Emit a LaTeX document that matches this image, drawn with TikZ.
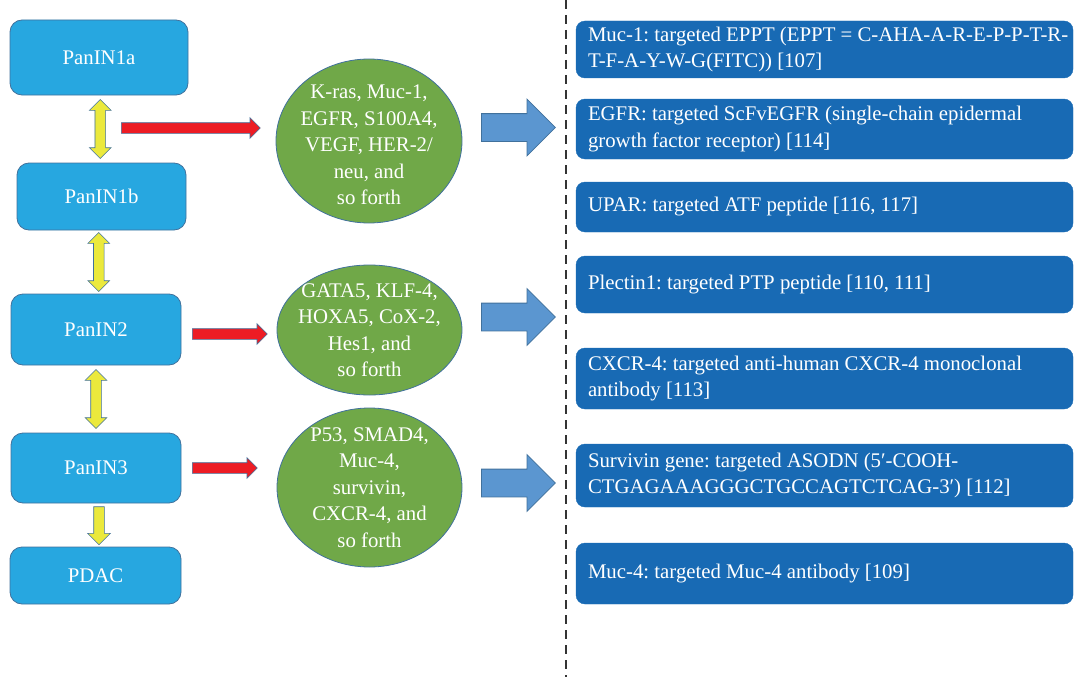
\documentclass[tikz,border=0pt]{standalone}
\usepackage{fontspec}
\setmainfont{Liberation Serif}
\usetikzlibrary{shapes.arrows,shapes.geometric,calc}
\definecolor{panblue}{RGB}{39,167,224}
\definecolor{edgeblue}{RGB}{65,113,156}
\definecolor{markgreen}{RGB}{112,168,72}
\definecolor{arrred}{RGB}{237,28,36}
\definecolor{arryellow}{RGB}{235,233,60}
\definecolor{arrblue}{RGB}{91,150,208}
\definecolor{targblue}{RGB}{24,106,180}
\frenchspacing

\begin{document}
\begin{tikzpicture}[x=1pt,y=-1pt,font=\fontsize{20.8pt}{26.5pt}\selectfont,
 stage/.style={rectangle,rounded corners=12pt,draw=edgeblue,fill=panblue,line width=0.8pt,text=white},
 marker/.style={ellipse,draw=edgeblue,fill=markgreen,line width=0.8pt,inner sep=0pt},
 mtext/.style={text=white,align=center,inner sep=0pt},
 target/.style={rectangle,rounded corners=9pt,draw=targblue,fill=targblue,minimum width=497pt},
 ttext/.style={anchor=west,text=white,align=left,inner sep=0pt},
 yarrow/.style={double arrow,draw=edgeblue,fill=arryellow,line width=0.6pt,inner xsep=0pt,inner ysep=5pt,
   double arrow head extend=5.5pt,double arrow head indent=0pt,rotate=90},
 ydown/.style={single arrow,draw=edgeblue,fill=arryellow,line width=0.6pt,inner xsep=0pt,inner ysep=5pt,
   single arrow head extend=6pt,single arrow head indent=0pt,rotate=-90,anchor=tail},
 rarrow/.style={single arrow,draw=edgeblue,fill=arrred,line width=0.6pt,inner xsep=0pt,inner ysep=5pt,
   single arrow head extend=5pt,single arrow head indent=0pt,anchor=tail},
 barrow/.style={single arrow,draw=edgeblue,fill=arrblue,line width=0.8pt,inner xsep=0pt,inner ysep=13.5pt,
   minimum height=74pt,single arrow head extend=14.5pt,single arrow head indent=0pt,anchor=tail},
 split/.style={draw=black!80,line width=1.3pt,dash pattern=on 9pt off 6pt}]

\useasboundingbox (0,0) rectangle (1074,677);

 \node at (99,57.5) [stage,minimum width=178pt,minimum height=75pt] (p1a) {PanIN1a};
 \node at (101.5,196.5) [stage,minimum width=169pt,minimum height=67pt] (p1b) {PanIN1b};
 \node at (96,329.5) [stage,minimum width=170pt,minimum height=71pt] (p2) {PanIN2};
 \node at (96,468) [stage,minimum width=170pt,minimum height=70pt] (p3) {PanIN3};
 \node at (95.5,575.5) [stage,minimum width=171pt,minimum height=57pt] (pdac) {PDAC};

 \node at ($(p1a.south)!0.5!(p1b.north)$) [yarrow,minimum height=59pt] (y1) {};
 \node at ($(p1b.south)!0.5!(p2.north)$) [yarrow,minimum height=59pt] (y2) {};
 \node at ($(p2.south)!0.5!(p3.north)$) [yarrow,minimum height=59pt] (y3) {};
 \node at ([xshift=3pt,yshift=-3pt]p3.south) [ydown,minimum height=38pt] (y4) {};

 \node at (121,128) [rarrow,minimum height=139pt] (r1) {};
 \node at (192,334) [rarrow,minimum height=75pt] (r2) {};
 \node at (192,468) [rarrow,minimum height=65pt] (r3) {};

 \node at (369,141) [marker,minimum width=186pt,minimum height=164pt] (e1) {};
 \node at ([yshift=-4pt]e1) [mtext] (e1t) {K-ras, Muc-1,\\EGFR, S100A4,\\VEGF, HER-2/\\neu, and\\so forth};
 \node at (369.5,330) [marker,minimum width=185pt,minimum height=130pt] (e2) {};
 \node at (e2) [mtext] (e2t) {GATA5, KLF-4,\\HOXA5, CoX-2,\\Hes1, and\\so forth};
 \node at (369.5,487.5) [marker,minimum width=185pt,minimum height=159pt] (e3) {};
 \node at (e3) [mtext] (e3t) {P53, SMAD4,\\Muc-4,\\survivin,\\CXCR-4, and\\so forth};

 \node at (481,127.5) [barrow] (b1) {};
 \node at (481,317) [barrow] (b2) {};
 \node at (481,483) [barrow] (b3) {};

 \coordinate (dtop) at (566,0);
 \coordinate (dbot) at (566,677);
 \draw[split] (dtop)--(dbot);

 \node at (824.5,49.5) [target,minimum height=57pt] (m1) {};
 \node at ([xshift=12pt]m1.west) [ttext] (m1t) {Muc-1: targeted EPPT (EPPT = C-AHA-A-R-E-P-P-T-R-\\T-F-A-Y-W-G(FITC)) [107]};
 \node at (824.5,129) [target,minimum height=60pt] (m2) {};
 \node at ([xshift=12pt]m2.west) [ttext] (m2t) {EGFR: targeted ScFvEGFR (single-chain epidermal\\growth factor receptor) [114]};
 \node at (824.5,207) [target,minimum height=50pt] (m3) {};
 \node at ([xshift=12pt]m3.west) [ttext] (m3t) {UPAR: targeted ATF peptide [116, 117]};
 \node at (824.5,284.5) [target,minimum height=57pt] (m4) {};
 \node at ([xshift=12pt]m4.west) [ttext] (m4t) {Plectin1: targeted PTP peptide [110, 111]};
 \node at (824.5,378.5) [target,minimum height=61pt] (m5) {};
 \node at ([xshift=12pt]m5.west) [ttext] (m5t) {CXCR-4: targeted anti-human CXCR-4 monoclonal\\antibody [113]};
 \node at (824.5,475.5) [target,minimum height=63pt] (m6) {};
 \node at ([xshift=12pt]m6.west) [ttext] (m6t) {Survivin gene: targeted ASODN (5′-COOH-\\CTGAGAAAGGGCTGCCAGTCTCAG-3′) [112]};
 \node at (824.5,573.5) [target,minimum height=61pt] (m7) {};
 \node at ([xshift=12pt]m7.west) [ttext] (m7t) {Muc-4: targeted Muc-4 antibody [109]};

\end{tikzpicture}
\end{document}
